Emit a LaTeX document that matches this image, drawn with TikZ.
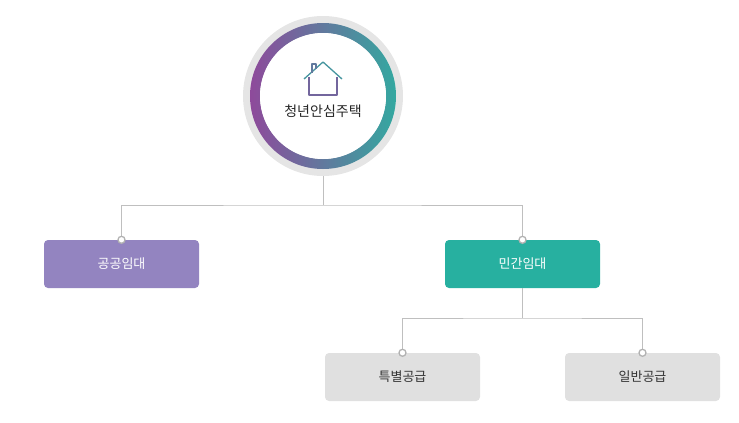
\documentclass[tikz,border=0pt]{standalone}
\usepackage{fontspec}
\newfontfamily\kr{Noto Sans CJK KR}
\begin{document}
\begin{tikzpicture}[x=1pt,y=-1pt,
 box/.style={rounded corners=4pt,minimum width=155pt,minimum height=48pt,inner sep=0pt,font=\kr\fontsize{13}{15}\selectfont},
 ln/.style={draw=black!25,line width=0.8pt},
 dot/.style={circle,draw=black!30,fill=white,line width=1.3pt,inner sep=0pt,minimum size=7pt}]
\useasboundingbox (0,0) rectangle (739,423);
\definecolor{pur}{HTML}{8E4A9B}\definecolor{tea}{HTML}{34A8A0}
\fill[black!10] (323,96) circle (80);
\shade[left color=pur,right color=tea,even odd rule] (323,96) circle (73) (323,96) circle (63);
\node[circle,fill=white,minimum size=126pt,inner sep=0pt] (c) at (323,96) {};
\node[font=\kr\fontsize{14}{16}\selectfont,text=black!85] (t) at (323,111) {청년안심주택};
\begin{scope}[line width=1.3pt,line join=round]
\draw[pur!70!tea] (309,77) -- (309,95) -- (337,95) -- (337,77);
\draw[tea!80!pur] (304,79) -- (323,62) -- (342,79);
\draw[pur!50!tea] (312,73) -- (312,64) -- (316,64) -- (316,69);
\end{scope}
\node[box,fill={rgb,255:red,147;green,132;blue,192},text=white] (a) at (121.5,264) {공공임대};
\node[box,fill={rgb,255:red,39;green,176;blue,160},text=white] (b) at (522.5,264) {민간임대};
\node[box,fill=black!12,text=black!80] (d) at (402.5,377) {특별공급};
\node[box,fill=black!12,text=black!80] (e) at (642.5,377) {일반공급};
\coordinate (j1) at (323,205);
\coordinate (j2) at (522.5,318);
\draw[ln] (323,176) -- (j1);
\draw[ln] (a.north) |- (j1) -| (b.north);
\draw[ln] (b.south) -- (j2);
\draw[ln] (d.north) |- (j2) -| (e.north);
\foreach \n in {a,b,d,e} \node[dot] at (\n.north) {};
\end{tikzpicture}
\end{document}
